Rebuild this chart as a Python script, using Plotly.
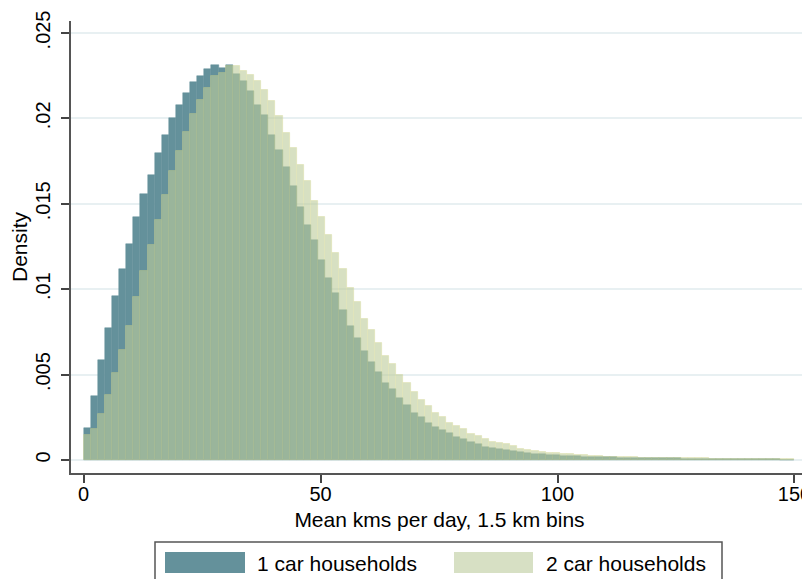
import numpy as np
import plotly.graph_objects as go

# histogram bins: 1.5 km wide, starting at 0
bin_width = 1.5
n_bins = 100
bin_left = np.arange(n_bins) * bin_width

# densities, in units of 0.001
one_car = [
    1.90, 3.72, 5.84, 7.70, 9.63, 11.16, 12.63, 14.20, 15.55, 16.66,
    18.00, 19.01, 20.01, 20.81, 21.50, 22.11, 22.46, 22.91, 23.11, 22.97,
    23.11, 22.62, 22.17, 21.58, 20.81, 20.17, 19.05, 18.17, 17.13, 16.02,
    14.84, 13.78, 12.86, 11.71, 10.65, 9.75, 8.81, 7.87, 7.13, 6.36,
    5.72, 5.13, 4.50, 4.15, 3.62, 3.23, 2.78, 2.49, 2.19, 1.96,
    1.76, 1.57, 1.37, 1.21, 1.08, 0.94, 0.78, 0.72, 0.67, 0.59,
    0.53, 0.45, 0.41, 0.35, 0.33, 0.29, 0.27, 0.25, 0.24, 0.22,
    0.20, 0.18, 0.16, 0.16, 0.15, 0.14, 0.13, 0.12, 0.12, 0.11,
    0.10, 0.10, 0.09, 0.09, 0.08, 0.08, 0.07, 0.07, 0.06, 0.06,
    0.06, 0.05, 0.05, 0.05, 0.04, 0.04, 0.04, 0.04, 0.03, 0.03,
]
two_car = [
    1.47, 1.80, 2.72, 3.78, 5.07, 6.46, 7.87, 9.57, 11.04, 12.61,
    14.08, 15.49, 16.90, 18.11, 19.23, 20.23, 21.05, 21.75, 22.50, 22.67,
    23.07, 23.07, 22.75, 22.52, 22.17, 21.64, 21.01, 20.11, 19.17, 18.25,
    17.25, 16.31, 15.19, 14.25, 13.16, 12.10, 11.16, 10.08, 9.26, 8.28,
    7.64, 6.85, 6.11, 5.64, 4.99, 4.52, 4.01, 3.54, 3.17, 2.74,
    2.53, 2.19, 2.00, 1.82, 1.53, 1.41, 1.25, 1.08, 1.02, 0.92,
    0.80, 0.67, 0.61, 0.53, 0.47, 0.41, 0.39, 0.37, 0.35, 0.31,
    0.27, 0.23, 0.21, 0.20, 0.19, 0.16, 0.15, 0.15, 0.14, 0.13,
    0.12, 0.12, 0.11, 0.11, 0.10, 0.10, 0.09, 0.09, 0.08, 0.08,
    0.07, 0.07, 0.06, 0.06, 0.05, 0.05, 0.05, 0.04, 0.04, 0.04,
]

y_ticks = [0, 0.005, 0.01, 0.015, 0.02, 0.025]
y_ticktext = ["0", ".005", ".01", ".015", ".02", ".025"]
x_ticks = [0, 50, 100, 150]

series_names = ["1 car households", "2 car households"]

TEAL = "rgb(100,145,155)"
PALE = "rgb(190,205,155)"
FONT = "Liberation Sans, Arial, sans-serif"

centers = bin_left + bin_width / 2

fig = go.Figure()
fig.add_trace(go.Bar(
    x=centers, y=np.array(one_car) / 1000, width=bin_width,
    name=series_names[0], marker=dict(color=TEAL, line=dict(color=TEAL, width=0.5)),
))
fig.add_trace(go.Bar(
    x=centers, y=np.array(two_car) / 1000, width=bin_width,
    name=series_names[1], opacity=0.6,
    marker=dict(color=PALE, line=dict(color="rgb(205,210,140)", width=0.8)),
))

# hand-made legend (wide swatches, boxed, like the Stata original)
# page pixel -> paper coords (plot area spans x 71..808, y 21..473 on the page)
def px_x(p):
    return (p - 71) / 737

def px_y(p):
    return (473 - p) / 452

shapes = [
    dict(type="rect", xref="paper", yref="paper",
         x0=px_x(155), x1=px_x(722), y0=px_y(542), y1=px_y(620),
         line=dict(color="#555555", width=1.5), fillcolor="white", layer="below"),
    dict(type="rect", xref="paper", yref="paper",
         x0=px_x(165), x1=px_x(245), y0=px_y(552), y1=px_y(573),
         line=dict(width=0), fillcolor=TEAL),
    dict(type="rect", xref="paper", yref="paper",
         x0=px_x(454), x1=px_x(533), y0=px_y(552), y1=px_y(573),
         line=dict(width=0), fillcolor="rgb(215,224,196)"),
]
annotations = [
    dict(xref="paper", yref="paper", x=px_x(255), y=px_y(563), text=series_names[0],
         showarrow=False, xanchor="left", yanchor="middle", font=dict(size=21, color="black")),
    dict(xref="paper", yref="paper", x=px_x(544), y=px_y(563), text=series_names[1],
         showarrow=False, xanchor="left", yanchor="middle", font=dict(size=21, color="black")),
]

# the page body has an 8px margin, so the figure is sized/offset to compensate
fig.update_layout(
    width=802, height=571,
    margin=dict(l=63, r=2, t=13, b=106),
    barmode="overlay", bargap=0,
    showlegend=False,
    plot_bgcolor="white", paper_bgcolor="white",
    font=dict(family=FONT, size=20, color="black"),
    shapes=shapes, annotations=annotations,
    xaxis=dict(
        range=[-2.64, 152.85], tickvals=x_ticks, showgrid=False, zeroline=False,
        showline=True, linecolor="#555555", linewidth=1.5, automargin=False,
        ticks="outside", ticklen=8, tickwidth=1.5, tickcolor="#444444",
        tickfont=dict(size=20), ticklabeloverflow="allow", ticklabelstandoff=-6,
        title=dict(text="Mean kms per day, 1.5 km bins", font=dict(size=21), standoff=9),
    ),
    yaxis=dict(
        range=[-0.00076, 0.0257], tickvals=y_ticks, ticktext=y_ticktext,
        tickangle=-90, showgrid=True, gridcolor="#e8f0f2", gridwidth=1.5, zeroline=False,
        showline=True, linecolor="#555555", linewidth=1.5, automargin=False,
        ticks="outside", ticklen=8, tickwidth=1.5, tickcolor="#444444",
        tickfont=dict(size=20), ticklabelstandoff=3,
        title=dict(text="Density", font=dict(size=21), standoff=0),
    ),
)

fig.write_html("out.html")
